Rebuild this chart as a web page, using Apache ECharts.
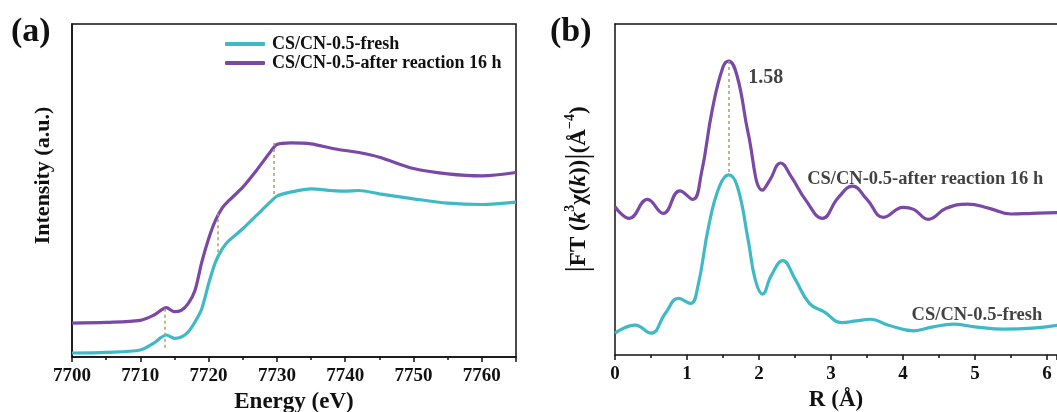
<!DOCTYPE html>
<html>
<head>
<meta charset="utf-8">
<script src="https://cdn.jsdelivr.net/npm/echarts@6/dist/echarts.min.js"></script>
<style>html,body{margin:0;padding:0;background:#fff}#c{width:1057px;height:412px}</style>
</head>
<body>
<div id="c"></div>
<script>
// ---- Panel (a): XANES ----
const aEnergy = [7700,7705,7710,7712,7713,7713.8,7715,7716,7717,7718,7719,7720,7721,7722,7723,7725,7727,7729,7730,7732,7735,7738,7740,7742,7745,7750,7755,7760,7765];
const aFresh  = [1.2,1.4,2.1,4.2,5.8,6.6,5.6,6.0,7.5,10.5,14.5,22,28.5,32.5,35,38.5,42.5,46.5,48.3,49.5,50.5,50,49.8,50,49,47.5,46.2,45.8,46.5];
const aAfter  = [10.2,10.4,11,12.6,14,14.8,13.6,14,16,20,28.5,35.5,41,44.8,47,51,56,61.5,63.8,64.3,64,62.7,62,61.4,60,56.6,55,54.4,55.4];
// dashed guide lines: [energy, top, bottom]
const aGuides = [[7713.6,14.5,2.7],[7721.4,43.2,31.2],[7729.5,64.3,48.6]];
const seriesNames = ['CS/CN-0.5-fresh','CS/CN-0.5-after reaction 16 h'];

// ---- Panel (b): FT-EXAFS ----
const bAfterR = [0,0.2,0.45,0.67,0.9,1.08,1.2,1.35,1.5,1.58,1.7,1.85,2.05,2.15,2.3,2.45,2.65,2.88,3.1,3.3,3.5,3.73,4.0,4.15,4.35,4.6,4.9,5.2,5.5,5.8,6.15];
const bAfterV = [44.8,41.3,47,42.8,49.6,47,54.9,74,87,88.8,84,67,49.8,52.8,58,53.8,46.8,41.3,47.5,51,47,41.6,44.6,44,41,44.3,45.6,44.3,42.6,42.8,43];
const bFreshR = [0,0.28,0.5,0.7,0.88,1.05,1.15,1.3,1.45,1.58,1.7,1.85,1.95,2.05,2.17,2.33,2.5,2.7,2.9,3.15,3.35,3.55,3.8,4.15,4.4,4.7,5.0,5.4,5.8,6.15];
const bFreshV = [6.6,9,6.6,12.6,17.1,15.6,20.6,38.8,50.9,54.4,50.9,34.7,22.6,18.4,24,28.5,23,15.6,13.1,9.8,10.3,10.8,9,7.3,8.4,9.3,8.5,7.8,8.1,9];
const bPeak = [1.58, 88.8, 54.4];
const bTexts = [['1.58',1.85,83.7],['CS/CN-0.5-after reaction 16 h',2.67,53.2],['CS/CN-0.5-fresh',4.12,12.1]];

const CYAN = '#3fb9c5', PURPLE = '#7a48a6', GUIDE = '#a9a462';
const FONT = "'Liberation Serif','Times New Roman',serif";
const zip = (xs, ys) => xs.map((x, i) => [x, ys[i]]);

const axisCommonX = {
  type: 'value',
  axisLine: {show: true, onZero: false, lineStyle: {color: '#111', width: 1.5}},
  axisTick: {show: true, inside: false, length: 5, lineStyle: {color: '#111', width: 1.5}},
  minorTick: {show: true, splitNumber: 2, length: 3, lineStyle: {color: '#111', width: 1.5}},
  splitLine: {show: false},
  axisLabel: {color: '#111', fontFamily: FONT, fontWeight: 'bold', fontSize: 19, margin: 10, showMaxLabel: false,
              formatter: v => String(v)},
  nameLocation: 'middle',
  nameTextStyle: {color: '#111', fontFamily: FONT, fontWeight: 'bold', fontSize: 23}
};
const axisCommonY = {
  type: 'value', min: 0, max: 100,
  axisLine: {show: true, lineStyle: {color: '#111', width: 1.5}},
  axisTick: {show: false}, axisLabel: {show: false}, splitLine: {show: false},
  nameLocation: 'middle', nameRotate: 90
};

const option = {
  backgroundColor: '#fff',
  animation: false,
  grid: [
    {left: 72, top: 24, width: 444, height: 333, show: true, borderColor: '#111', borderWidth: 1.5,
     backgroundColor: 'transparent', containLabel: false, outerBoundsMode: 'none'},
    {left: 615, top: 24, right: 0, height: 331, show: false, containLabel: false, outerBoundsMode: 'none'}
  ],
  xAxis: [
    Object.assign({}, axisCommonX, {gridIndex: 0, min: 7700, max: 7765, interval: 10, name: 'Energy (eV)', nameGap: 32}),
    Object.assign({}, axisCommonX, {gridIndex: 1, min: 0, max: 6.14, interval: 1, name: 'R (Å)', nameGap: 32}),
    {type: 'value', gridIndex: 1, position: 'top', min: 0, max: 6.14,
     axisLine: {show: true, onZero: false, lineStyle: {color: '#111', width: 1.5}},
     axisTick: {show: false}, axisLabel: {show: false}, splitLine: {show: false}}
  ],
  yAxis: [
    Object.assign({}, axisCommonY, {gridIndex: 0, name: 'Intensity (a.u.)', nameGap: 18,
      nameTextStyle: {color: '#111', fontFamily: FONT, fontWeight: 'bold', fontSize: 22, padding: [0,0,0,30]}}),
    Object.assign({}, axisCommonY, {gridIndex: 1, nameGap: 20,
      name: '{bar||}{n|FT (}{it|k}{sup|3}{n|χ(}{it|k}{n|))}{bar||}{n|(Å}{sup|−4}{n|)}',
      nameTextStyle: {color: '#111', fontFamily: FONT, fontWeight: 'bold', fontSize: 22,
        rich: {
          n: {fontFamily: FONT, fontWeight: 'bold', fontSize: 23, color: '#111'},
          it: {fontFamily: FONT, fontWeight: 'bold', fontStyle: 'italic', fontSize: 23, color: '#111'},
          sup: {fontFamily: FONT, fontWeight: 'bold', fontSize: 14, color: '#111', verticalAlign: 'top', lineHeight: 28},
          bar: {fontFamily: FONT, fontWeight: 'normal', fontSize: 32, color: '#111'}
        }}})
  ],
  legend: {
    data: seriesNames, orient: 'vertical', left: 225, top: 35, padding: 0,
    itemWidth: 40, itemHeight: 4, itemGap: 1, icon: 'roundRect',
    textStyle: {color: '#111', fontFamily: FONT, fontWeight: 'bold', fontSize: 18, lineHeight: 18, padding: [0,0,0,2]}
  },
  series: [
    {name: seriesNames[0], type: 'line', xAxisIndex: 0, yAxisIndex: 0, data: zip(aEnergy, aFresh),
     smooth: 0.3, showSymbol: false, color: CYAN, lineStyle: {width: 3.2, color: CYAN},
     markLine: {silent: true, symbol: 'none', label: {show: false},
       lineStyle: {color: GUIDE, type: [3, 3], width: 1.5},
       data: aGuides.map(g => [{coord: [g[0], g[1]]}, {coord: [g[0], g[2]]}])}},
    {name: seriesNames[1], type: 'line', xAxisIndex: 0, yAxisIndex: 0, data: zip(aEnergy, aAfter),
     smooth: 0.3, showSymbol: false, color: PURPLE, lineStyle: {width: 3.2, color: PURPLE}, z: 3},
    {name: 'b-after', type: 'line', xAxisIndex: 1, yAxisIndex: 1, data: zip(bAfterR, bAfterV),
     smooth: 0.45, showSymbol: false, color: PURPLE, lineStyle: {width: 3.2, color: PURPLE}},
    {name: 'b-fresh', type: 'line', xAxisIndex: 1, yAxisIndex: 1, data: zip(bFreshR, bFreshV),
     smooth: 0.45, showSymbol: false, color: CYAN, lineStyle: {width: 3.2, color: CYAN},
     markLine: {silent: true, symbol: 'none', label: {show: false},
       lineStyle: {color: GUIDE, type: [3, 3], width: 1.5},
       data: [[{coord: [bPeak[0], bPeak[1]]}, {coord: [bPeak[0], bPeak[2]]}]]}},
    {name: 'b-text', type: 'scatter', xAxisIndex: 1, yAxisIndex: 1, symbolSize: 0, silent: true,
     data: bTexts.map(t => ({value: [t[1], t[2]], label: {formatter: t[0], fontSize: t[0] === '1.58' ? 20 : 18.5}})),
     label: {show: true, position: 'right', distance: 0, color: '#111', fontFamily: FONT, fontWeight: 'bold', fontSize: 18.5}}
  ],
  graphic: [
    {type: 'text', left: 11, top: 15, style: {text: '(a)', fill: '#111', font: "bold 34px 'Liberation Serif', serif"}},
    {type: 'text', left: 550, top: 15, style: {text: '(b)', fill: '#111', font: "bold 34px 'Liberation Serif', serif"}}
  ]
};
const chart = echarts.init(document.getElementById('c'), null, {renderer: 'canvas'});
chart.setOption(option);
</script>
</body>
</html>
